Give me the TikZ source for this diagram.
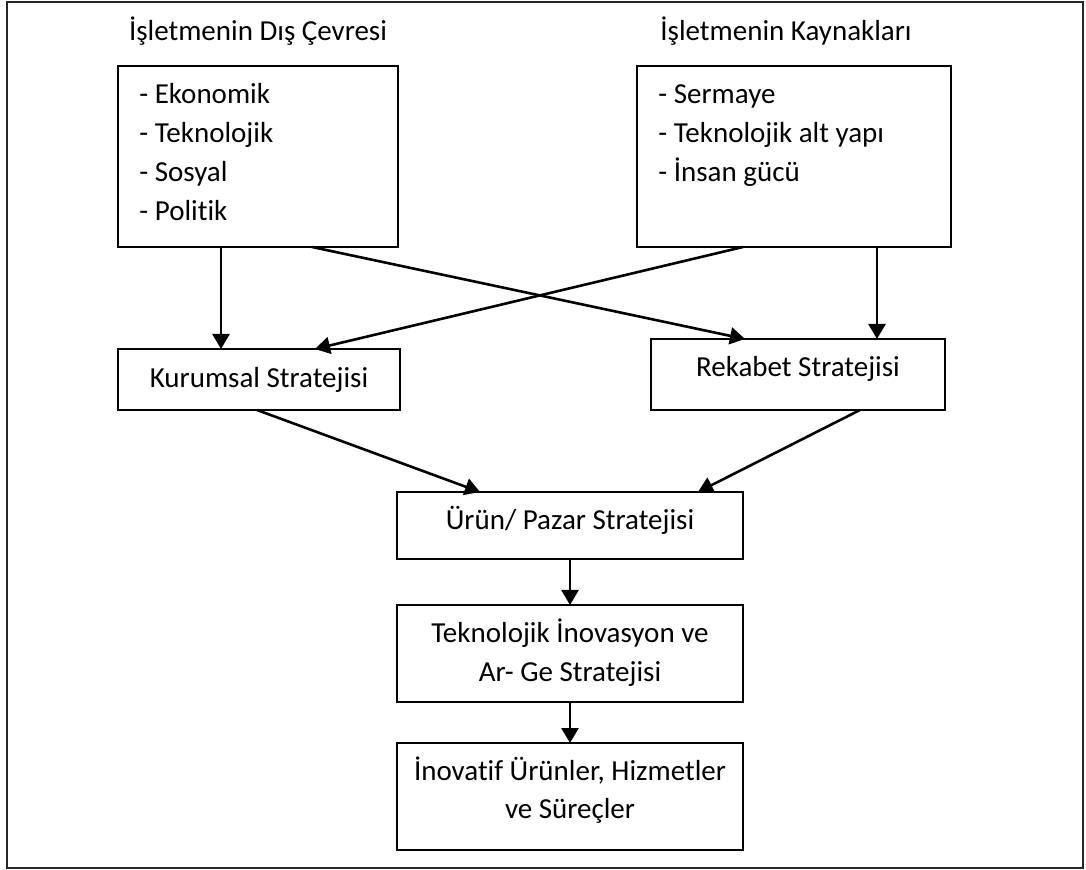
\documentclass[tikz,border=0pt]{standalone}
\usepackage{fontspec}
\setmainfont{Carlito}[RawFeature={-liga;-clig;-dlig}]
\usetikzlibrary{arrows.meta}
\begin{document}
\begin{tikzpicture}[x=0.5pt,y=-0.5pt,
  box/.style={draw, line width=1.1pt, inner sep=0pt, outer sep=0pt},
  txt/.style={inner sep=0pt, font=\fontsize{14.5pt}{19.5pt}\selectfont},
  arr/.style={line width=1.3pt, -{Triangle[length=7.5pt,width=8.5pt]}}]
\useasboundingbox (0,0) rectangle (1086,870);
\draw[line width=1.3pt, draw=black!85] (7,2) rectangle (1083,868);
% titles
\node[txt, anchor=base] (t1) at (258,41) {İşletmenin Dış Çevresi};
\node[txt, anchor=base] (t2) at (786,41) {İşletmenin Kaynakları};
% boxes
\node[box, minimum width=140pt, minimum height=90.5pt] (LB) at (258,156.5) {};
\node[box, minimum width=157pt, minimum height=90.5pt] (RB) at (794,156.5) {};
\node[box, minimum width=141pt, minimum height=30.5pt] (K) at (259,379.5) {};
\node[box, minimum width=147pt, minimum height=35.5pt] (R) at (798,374.5) {};
\node[box, minimum width=173pt, minimum height=33.5pt] (U) at (570,525.5) {};
\node[box, minimum width=173pt, minimum height=48.5pt] (T) at (570,653.5) {};
\node[box, minimum width=173pt, minimum height=53.5pt] (I) at (570,796.5) {};
% list texts
\node[txt, anchor=base west] (l1) at (139,104) {- Ekonomik};
\node[txt, anchor=base west] (l2) at (139,143) {- Teknolojik};
\node[txt, anchor=base west] (l3) at (139,182) {- Sosyal};
\node[txt, anchor=base west] (l4) at (139,221) {- Politik};
\node[txt, anchor=base west] (r1) at (658,104) {- Sermaye};
\node[txt, anchor=base west] (r2) at (658,143) {- Teknolojik alt yapı};
\node[txt, anchor=base west] (r3) at (658,182) {- İnsan gücü};
% box texts
\node[txt, anchor=base] (kt) at (259,388) {Kurumsal Stratejisi};
\node[txt, anchor=base] (rt) at (798,377) {Rekabet Stratejisi};
\node[txt, anchor=base] (ut) at (570,530) {Ürün/ Pazar Stratejisi};
\node[txt, anchor=base] (tt1) at (570,643) {Teknolojik İnovasyon ve};
\node[txt, anchor=base] (tt2) at (570,682) {Ar- Ge Stratejisi};
\node[txt, anchor=base] (it1) at (570,780) {İnovatif Ürünler, Hizmetler};
\node[txt, anchor=base] (it2) at (570,818) {ve Süreçler};
% connectors
\draw[arr] ([xshift=51.5pt]LB.south west) -- ([xshift=51.5pt]K.north west);
\draw[arr] ([xshift=97pt]LB.south west) -- ([xshift=47pt]R.north west);
\draw[arr] ([xshift=53pt]RB.south west) -- ([xshift=98.5pt]K.north west);
\draw[arr] ([xshift=120pt]RB.south west) -- ([xshift=113pt]R.north west);
\draw[arr] ([xshift=69.5pt]K.south west) -- ([xshift=41.5pt]U.north west);
\draw[arr] ([xshift=104.5pt]R.south west) -- ([xshift=150.5pt]U.north west);
\draw[arr] (U.south) -- (T.north);
\draw[arr] (T.south) -- (I.north);
\end{tikzpicture}
\end{document}
